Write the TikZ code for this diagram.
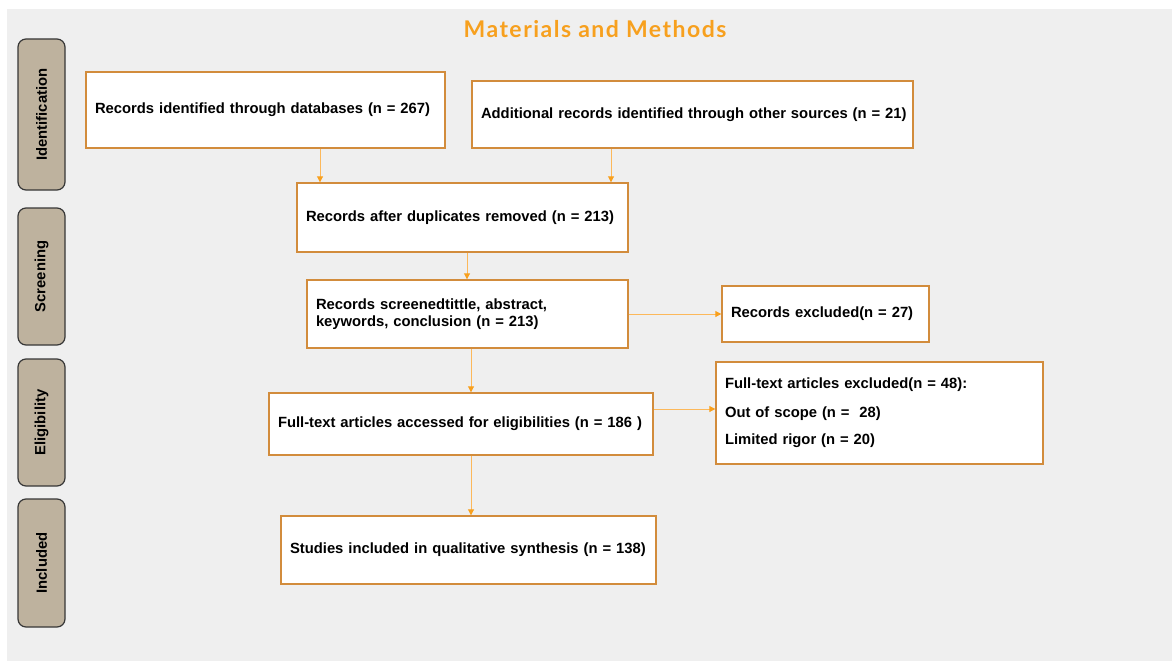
\documentclass[tikz,border=0pt]{standalone}
\usepackage{fontspec}
\setmainfont{Liberation Sans}
\newfontfamily\titlefont{Lato}[LetterSpace=6.5]
\usetikzlibrary{arrows.meta}
\definecolor{bggray}{RGB}{239,239,239}
\definecolor{titleorange}{RGB}{247,160,30}
\definecolor{boxborder}{RGB}{210,140,60}
\definecolor{arrowline}{RGB}{252,184,90}
\definecolor{arrowhead}{RGB}{248,160,30}
\definecolor{sidefill}{RGB}{190,178,158}
\definecolor{sideborder}{RGB}{55,55,55}
\tikzset{
  flowbox/.style={draw=boxborder, line width=1.4pt, fill=white, rectangle,
    inner xsep=9pt, inner ysep=0pt, align=left,
    font=\fontsize{14.8}{17.5}\selectfont\bfseries, text=black},
  sidebox/.style={draw=sideborder, line width=1.2pt, fill=sidefill,
    rounded corners=8pt, rectangle, rotate=90, inner sep=0pt,
    minimum height=47pt, font=\fontsize{14.8}{17.5}\selectfont\bfseries, text=black},
  arr/.style={draw=arrowline, line width=0.9pt,
    -{Triangle[length=6pt,width=6pt,fill=arrowhead,color=arrowhead]}}
}
\begin{document}
\begin{tikzpicture}[x=1pt,y=-1pt]
\useasboundingbox (0,0) rectangle (1172,661);
\fill[white] (0,0) rectangle (1172,661);
\fill[bggray] (7,9) rectangle (1172,661);

\node[font=\titlefont\fontsize{23}{27}\selectfont\bfseries, text=titleorange] (title) at (595,29) {Materials and Methods};

% side labels
\node[sidebox, minimum width=151pt] (sid) at (41.5,114.5) {Identification};
\node[sidebox, minimum width=137pt] (sscr) at (41.5,276.5) {Screening};
\node[sidebox, minimum width=127pt] (selig) at (41.5,422.5) {Eligibility};
\node[sidebox, minimum width=128pt] (sinc) at (41.5,563) {Included};

% flow boxes
\node[flowbox, text width=341pt, minimum height=76pt] (b1) at (265.5,110) {\mbox{Records identified through databases (n = 267)}};
\node[flowbox, text width=423pt, minimum height=67pt] (b2) at (692.5,114.5) {\mbox{Additional records identified through other sources (n = 21)}};
\node[flowbox, text width=313pt, minimum height=69pt] (b3) at (462.5,217.5) {\mbox{Records after duplicates removed (n = 213)}};
\node[flowbox, text width=303pt, minimum height=68pt] (b4) at (467.5,314) {Records screenedtittle, abstract,\\keywords, conclusion (n = 213)};
\node[flowbox, text width=189pt, minimum height=56pt] (b5) at (825.5,314) {\mbox{Records excluded(n = 27)}};
\node[flowbox, text width=366pt, minimum height=62pt] (b6) at (461,424) {\mbox{Full-text articles accessed for eligibilities (n = 186 )}};
\node[flowbox, text width=309pt, minimum height=102pt] (b7) at (879.5,413) {Full-text articles excluded(n = 48):\\[11pt]Out of scope (n =\ \ 28)\\[10pt]Limited rigor (n = 20)};
\node[flowbox, text width=357pt, minimum height=68pt] (b8) at (468.5,550) {\mbox{Studies included in qualitative synthesis (n = 138)}};

% connector x positions
\coordinate (x1) at (320,0);
\coordinate (x2) at (611,0);
\coordinate (x3) at (467,0);
\coordinate (x4) at (471,0);

\draw[arr] (x1 |- b1.south) -- (x1 |- b3.north);
\draw[arr] (x2 |- b2.south) -- (x2 |- b3.north);
\draw[arr] (x3 |- b3.south) -- (x3 |- b4.north);
\draw[arr] (x4 |- b4.south) -- (x4 |- b6.north);
\draw[arr] (b4.east) -- (b5.west);
\draw[arr] ([yshift=15pt]b6.east) -- ([yshift=15pt]b6.east -| b7.west);
\draw[arr] (x4 |- b6.south) -- (x4 |- b8.north);
\end{tikzpicture}
\end{document}
